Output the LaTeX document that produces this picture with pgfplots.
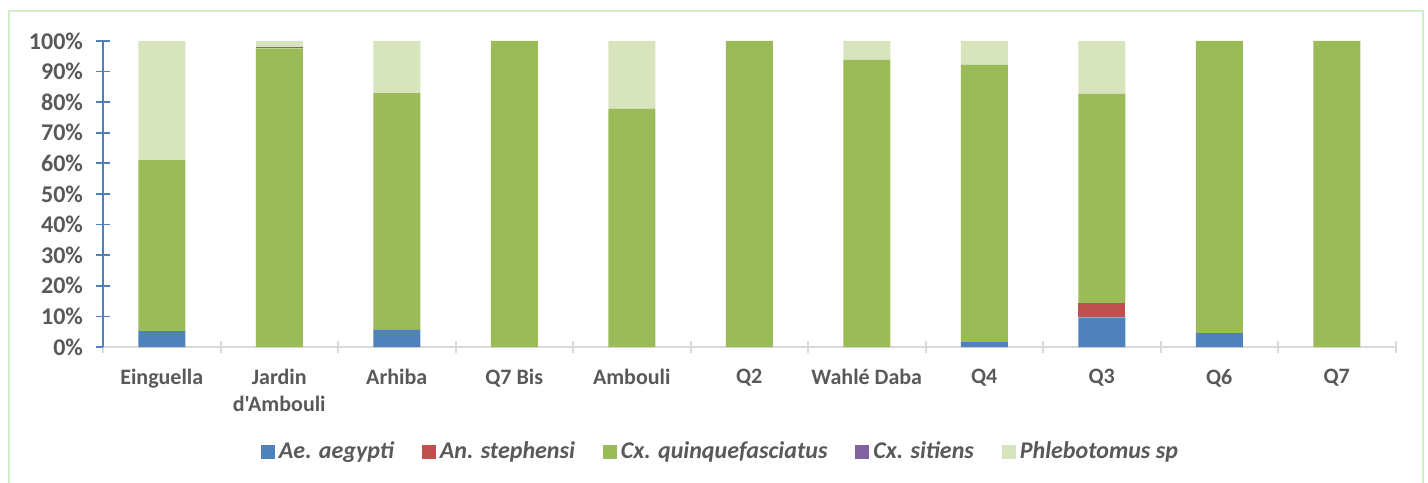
\documentclass[border=0pt]{standalone}
\usepackage{fontspec}
\setmainfont{Carlito}[Ligatures=TeXOff]
\usepackage{pgfplots}
\pgfplotsset{compat=1.18}
\definecolor{cblue}{HTML}{4F81BD}
\definecolor{cred}{HTML}{C0504D}
\definecolor{cgreen}{HTML}{9BBB59}
\definecolor{cpurple}{HTML}{8064A2}
\definecolor{clight}{HTML}{D7E4BD}
\definecolor{ctext}{HTML}{595959}
\definecolor{cframe}{HTML}{D3ECC9}
\definecolor{caxis}{HTML}{D9D9D9}
\begin{document}
\begin{tikzpicture}
\useasboundingbox (0pt,0pt) rectangle (714pt,241pt);
\draw[cframe, line width=1pt] (4.5pt,-2pt) -- (4.5pt,235.5pt) -- (711.5pt,235.5pt) -- (711.5pt,-2pt);
\begin{axis}[
  at={(51.5pt,67.5pt)}, anchor=south west,
  scale only axis, width=646.25pt, height=153pt,
  ybar stacked, bar width=23.5pt,
  xmin=-0.5, xmax=10.5, ymin=0, ymax=100,
  axis x line*=bottom, axis y line*=left,
  x axis line style={draw=caxis, line width=1pt},
  y axis line style={draw=cblue, line width=1pt},
  ytick={0,10,...,100},
  /pgf/number format/assume math mode=true,
  yticklabel={\pgfmathprintnumber{\tick}\%},
  ytick align=center, major tick length=7pt,
  y tick style={draw=cblue, line width=0.9pt},
  xtick={0,...,10},
  x tick style={draw=none},
  minor xtick={-0.5,0.5,...,10.5},
  minor x tick style={draw=caxis, line width=1pt},
  xtick align=center, minor tick length=6pt,
  xticklabels={Einguella,{Jardin\\d'Ambouli},Arhiba,Q7 Bis,Ambouli,Q2,Wahlé Daba,Q4,Q3,Q6,Q7},
  x tick label style={align=center, font=\bfseries\fontsize{11}{13.5}\selectfont, text=ctext, yshift=-4pt},
  y tick label style={font=\bfseries\fontsize{12}{14}\selectfont, text=ctext, xshift=-3pt},
  legend style={at={(0.4785,-0.343)}, anchor=center, legend columns=5, draw=none,
    font=\bfseries\itshape\fontsize{12}{14}\selectfont, text=ctext,
    /tikz/every even column/.append style={column sep=12pt}},
  legend image code/.code={\fill[#1] (0pt,-3.5pt) rectangle (7pt,3.5pt);},
]
\addplot[fill=cblue, draw=none] coordinates {(0,5.2) (1,0) (2,5.6) (3,0) (4,0) (5,0) (6,0) (7,1.6) (8,9.7) (9,4.5) (10,0)};
\addplot[fill=cred, draw=none] coordinates {(0,0) (1,0) (2,0) (3,0) (4,0) (5,0) (6,0) (7,0) (8,4.6) (9,0) (10,0)};
\addplot[fill=cgreen, draw=none] coordinates {(0,55.9) (1,97.6) (2,77.4) (3,100) (4,77.8) (5,100) (6,93.8) (7,90.6) (8,68.4) (9,95.5) (10,100)};
\addplot[fill=cpurple, draw=none] coordinates {(0,0) (1,0.4) (2,0) (3,0) (4,0) (5,0) (6,0) (7,0) (8,0) (9,0) (10,0)};
\addplot[fill=clight, draw=none] coordinates {(0,38.9) (1,2.0) (2,17.0) (3,0) (4,22.2) (5,0) (6,6.2) (7,7.8) (8,17.3) (9,0) (10,0)};
\legend{Ae. aegypti, An. stephensi, Cx. quinquefasciatus, Cx. sitiens, Phlebotomus sp}
\end{axis}
\end{tikzpicture}
\end{document}
